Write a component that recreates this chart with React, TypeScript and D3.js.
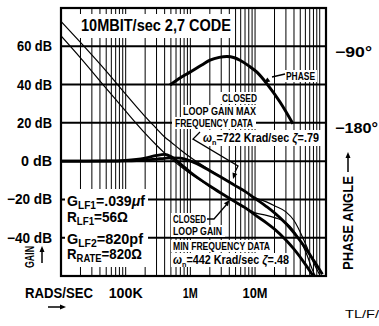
import React from "react";
import * as d3 from "d3";

// ---------------- data ----------------
const freqRadS = [1e4, 2e4, 5e4, 1e5, 2e5, 3e5, 4e5, 5e5, 7e5, 1e6, 2e6, 3e6, 5e6, 7e6, 1e7, 1.5e7, 2e7, 3e7, 4e7, 6e7, 8e7, 1.1e8];
const closedLoopMinDb = [0, 0.03, 0.11, 0.43, 1.6, 3.0, 3.5, 2.4, -1.4, -5.8, -13.0, -16.8, -21.4, -24.3, -28.1, -32.2, -35.5, -41.2, -46.0, -53.9, -60.2, -68];
const closedLoopMaxDb = [0, 0.01, 0.04, 0.16, 0.57, 1.08, 1.5, 1.75, 1.54, 0.12, -5.0, -8.4, -12.9, -15.8, -19.5, -23.7, -27.0, -32.6, -37.5, -45.3, -51.7, -59.1];
const openLoopMaxDb = [73, 62, 47, 35, 23.3, 17, 12.6, 10, 6, 2.0, -4.6, -8.3, -12.8, -15.7, -19.0, -21.3, -23.3, -26.5, -31.0, -43, -53, -62];
const openLoopMinDb = [65.5, 54, 38, 26.1, 14.5, 8.3, 4.2, 1.3, -2.7, -6.6, -13.2, -16.9, -21.4, -24.3, -27.0, -28.3, -29.5, -32.0, -36.5, -47, -58, -66];
const phaseFreqRadS = [4.84e5, 7e5, 9.86e5, 1.5e6, 2.01e6, 2.8e6, 3.68e6, 4.8e6, 5.85e6, 8e6, 1.07e7, 1.58e7, 2.43e7, 3.85e7];
const phaseDeg = [-135.6, -127, -120.4, -112, -106.4, -103, -102, -103.5, -106.4, -113, -120.4, -135.6, -155.5, -181];

const gainTicks = [60, 40, 20, 0, -20, -40];
const gainLabels = ["60 dB", "40 dB", "20 dB", "0 dB", "\u221220 dB", "\u221240 dB"];
const gainLabelWidths = [35, 35, 35, 31, 45, 45];
const phaseTicks = [-90, -180];
const phaseLabels = ["\u221290\u00b0", "\u2212180\u00b0"];
const phaseLabelWidths = [37, 43];
const freqLabelValues = [1e5, 1e6, 1e7];
const freqLabels = ["100K", "1M", "10M"];
const freqLabelWidths = [34, 15, 25];

const W = 379;
const H = 326;
const FRAME = { left: 61, right: 326, top: 8, bottom: 276 };
const FONT = "'Liberation Sans', Arial, Helvetica, sans-serif";

function arrowHead(x1: number, y1: number, x2: number, y2: number, len = 6, half = 2.5) {
  const a = Math.atan2(y2 - y1, x2 - x1);
  const bx = x2 - len * Math.cos(a);
  const by = y2 - len * Math.sin(a);
  const px = -Math.sin(a) * half;
  const py = Math.cos(a) * half;
  return `M${x2},${y2}L${bx + px},${by + py}L${bx - px},${by - py}Z`;
}

function T(props: { x: number; y: number; w: number; size: number; children: any; anchor?: string; weight?: number; transform?: string }) {
  const { x, y, w, size, children, anchor, weight, transform } = props;
  return (
    <text
      x={x}
      y={y}
      fontSize={size}
      fontFamily={FONT}
      fontWeight={weight ?? 700}
      textAnchor={anchor ?? "start"}
      textLength={w}
      lengthAdjust="spacingAndGlyphs"
      transform={transform}
      fill="#000"
    >
      {children}
    </text>
  );
}

function Omega(props: { x: number; y: number; value: string; zeta: string }) {
  const { x, y, value, zeta } = props;
  return (
    <text
      transform={`translate(${x},${y}) scale(0.9,1)`}
      fontSize={12}
      fontFamily={FONT}
      fontWeight={700}
      fill="#000"
    >
      <tspan fontStyle="italic">ω</tspan>
      <tspan fontSize={8} dy={3}>n</tspan>
      <tspan dy={-3}>{`=${value} Krad/sec `}</tspan>
      <tspan fontStyle="italic">ζ</tspan>
      <tspan>{`=${zeta}`}</tspan>
    </text>
  );
}

export default function App() {
  const x = d3.scaleLog().domain([1e4, 1.25e8]).range([FRAME.left, FRAME.right]);
  const y = d3.scaleLinear().domain([-60, 80]).range([FRAME.bottom, FRAME.top]);
  const yPhase = d3.scaleLinear().domain([-90, -180]).range([y(60), y(20)]);

  const gridFreqs: number[] = [];
  for (let d = 4; d <= 8; d++) {
    for (let k = 1; k <= 9; k++) {
      const f = k * Math.pow(10, d);
      if (f > 1e4 && f < 1.25e8) gridFreqs.push(f);
    }
  }

  const gainLine = d3
    .line<number>()
    .x((_, i) => x(freqRadS[i]))
    .y((d) => y(d))
    .curve(d3.curveMonotoneX);
  const phaseLine = d3
    .line<number>()
    .x((_, i) => x(phaseFreqRadS[i]))
    .y((d) => yPhase(d))
    .curve(d3.curveMonotoneX);

  const masks = [
    [77, 14, 156, 24], // title
    [65, 189, 83, 78], // left parameters
    [220, 92, 39, 12], // CLOSED
    [181, 105, 78, 12], // LOOP GAIN MAX
    [172, 117, 84, 12], // FREQUENCY DATA
    [199, 130, 126, 16], // wn = 722
    [283, 70, 34, 12], // PHASE
    [171, 213, 38, 12],
    [171, 225, 54, 12],
    [171, 240, 102, 12],
    [171, 253, 119, 14],
  ];

  return (
    <svg width={W} height={H} style={{ position: "absolute", left: 0, top: 0, background: "#fff" }}>
      <defs>
        <clipPath id="plotclip">
          <rect x={FRAME.left} y={FRAME.top} width={FRAME.right - FRAME.left} height={FRAME.bottom - FRAME.top} />
        </clipPath>
      </defs>
      <rect x={0} y={0} width={W} height={H} fill="#fff" />
      {/* vertical log grid */}
      {gridFreqs.map((f) => (
        <line key={f} x1={x(f)} x2={x(f)} y1={FRAME.top} y2={FRAME.bottom} stroke="#000" strokeWidth={1} />
      ))}
      {/* horizontal grid */}
      {gainTicks.map((g) => (
        <line key={g} x1={FRAME.left} x2={FRAME.right} y1={y(g)} y2={y(g)} stroke="#000" strokeWidth={2} />
      ))}
      {/* text masks */}
      {masks.map((m, i) => (
        <rect key={i} x={m[0]} y={m[1]} width={m[2]} height={m[3]} fill="#fff" />
      ))}
      <rect x={FRAME.left} y={FRAME.top} width={FRAME.right - FRAME.left} height={FRAME.bottom - FRAME.top} fill="none" stroke="#000" strokeWidth={2.2} />

      <g clipPath="url(#plotclip)" fill="none" stroke="#000" strokeLinejoin="round">
        <path d={gainLine(openLoopMaxDb) || ""} strokeWidth={1.2} />
        <path d={gainLine(openLoopMinDb) || ""} strokeWidth={1.2} />
        <path d={gainLine(closedLoopMaxDb) || ""} strokeWidth={2.8} />
        <path d={gainLine(closedLoopMinDb) || ""} strokeWidth={2.8} />
        <path d={phaseLine(phaseDeg) || ""} strokeWidth={3} />
      </g>

      {/* title */}
      <T x={81} y={30.5} w={150} size={16}>10MBIT/sec 2,7 CODE</T>

      {/* gain axis labels */}
      {gainTicks.map((g, i) => (
        <T key={g} x={52} y={y(g) + 5} w={gainLabelWidths[i]} size={14} anchor="end">
          {gainLabels[i]}
        </T>
      ))}
      {/* phase axis labels */}
      {phaseTicks.map((p, i) => (
        <T key={p} x={335} y={yPhase(p) + 10.5} w={phaseLabelWidths[i]} size={14}>
          {phaseLabels[i]}
        </T>
      ))}
      {/* frequency labels */}
      {freqLabelValues.map((f, i) => (
        <T key={f} x={x(f)} y={298} w={freqLabelWidths[i]} size={14} anchor="middle">
          {freqLabels[i]}
        </T>
      ))}
      <T x={25} y={298} w={68} size={14}>RADS/SEC</T>
      <line x1={48} x2={62} y1={307} y2={307} stroke="#000" strokeWidth={1.5} />
      <path d={arrowHead(48, 307, 66, 307)} fill="#000" />

      {/* GAIN rotated */}
      <T x={0} y={0} w={22} size={13.5} transform="translate(33.5,268) rotate(-90)">GAIN</T>
      <line x1={42} x2={42} y1={263} y2={252} stroke="#000" strokeWidth={1.5} />
      <path d={arrowHead(42, 263, 42, 246)} fill="#000" />

      {/* PHASE ANGLE rotated */}
      <T x={0} y={0} w={94} size={14} transform="translate(353,270) rotate(-90)">PHASE ANGLE</T>
      <line x1={348} x2={348} y1={172} y2={158} stroke="#000" strokeWidth={1.5} />
      <path d={arrowHead(348, 172, 348, 152)} fill="#000" />

      <T x={345} y={318} w={34} size={10} weight={400}>TL/F/</T>

      {/* phase annotation */}
      <T x={286} y={80} w={29} size={10.5}>PHASE</T>
      <path d="M285,74 L272,77" stroke="#000" strokeWidth={1.3} fill="none" />
      <path d={arrowHead(272, 77, 264, 83)} fill="#000" />

      {/* closed loop max annotation */}
      <T x={222} y={102} w={35} size={11}>CLOSED</T>
      <T x={183} y={115} w={73} size={11}>LOOP GAIN MAX</T>
      <T x={175} y={127} w={78} size={11}>FREQUENCY DATA</T>
      <Omega x={203} y={142} value="722" zeta=".79" />
      <path d="M200,132 L193,139 L238,166 L235,172" stroke="#000" strokeWidth={1.3} fill="none" />
      <path d={arrowHead(236, 170, 233, 179)} fill="#000" />

      {/* closed loop min annotation */}
      <T x={173} y={223} w={33} size={11}>CLOSED</T>
      <path d="M207,219 L214,219 L227,204" stroke="#000" strokeWidth={1.3} fill="none" />
      <path d={arrowHead(224, 207.5, 229.5, 200)} fill="#000" />
      <T x={173} y={235} w={49} size={11}>LOOP GAIN</T>
      <T x={173} y={250} w={97} size={11}>MIN FREQUENCY DATA</T>
      <Omega x={173} y={264} value="442" zeta=".48" />

      {/* filter parameters */}
      <text x={67} y={206} fontSize={14} fontFamily={FONT} fontWeight={700} textLength={78} lengthAdjust="spacingAndGlyphs">
        G<tspan fontSize={10} dy={3}>LF1</tspan>
        <tspan dy={-3}>=.039</tspan>
        <tspan fontStyle="italic">μ</tspan>f
      </text>
      <text x={67} y={222} fontSize={14} fontFamily={FONT} fontWeight={700} textLength={61} lengthAdjust="spacingAndGlyphs">
        R<tspan fontSize={10} dy={3}>LF1</tspan>
        <tspan dy={-3}>=56Ω</tspan>
      </text>
      <text x={67} y={244} fontSize={14} fontFamily={FONT} fontWeight={700} textLength={76} lengthAdjust="spacingAndGlyphs">
        G<tspan fontSize={10} dy={3}>LF2</tspan>
        <tspan dy={-3}>=820pf</tspan>
      </text>
      <text x={67} y={259} fontSize={14} fontFamily={FONT} fontWeight={700} textLength={75} lengthAdjust="spacingAndGlyphs">
        R<tspan fontSize={10} dy={3}>RATE</tspan>
        <tspan dy={-3}>=820Ω</tspan>
      </text>
    </svg>
  );
}
